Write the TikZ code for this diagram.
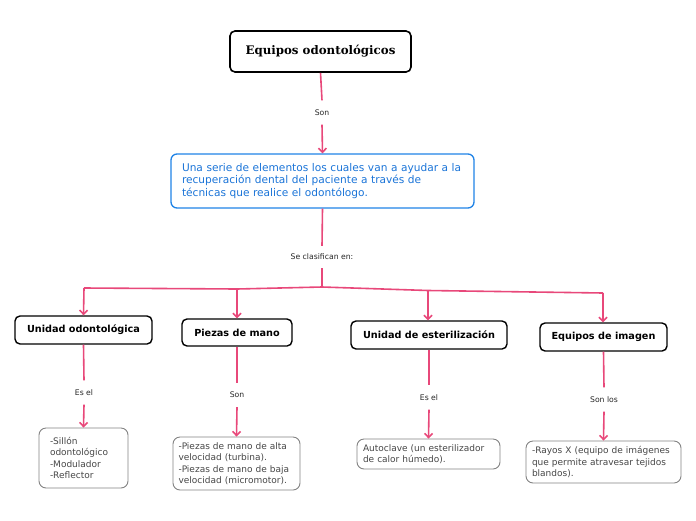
\documentclass[tikz,border=0pt]{standalone}
\usepackage{fontspec}
\setmainfont{DejaVu Sans}
\newfontfamily\titlefont{DejaVu Serif}
\usetikzlibrary{arrows.meta}
\definecolor{pinkline}{RGB}{232,72,122}
\definecolor{bluebox}{RGB}{30,130,230}
\definecolor{bluetext}{RGB}{25,115,215}
\definecolor{leafgray}{RGB}{130,130,130}
\definecolor{leaftext}{RGB}{70,70,70}
\tikzset{
  mainbox/.style={draw=black, line width=1.4pt, rounded corners=5pt, inner sep=0pt, align=center, font=\bfseries\fontsize{9.7}{11}\selectfont},
  leafbox/.style={draw=leafgray, line width=0.9pt, rounded corners=7pt, inner ysep=0pt, align=left, text=leaftext, font=\fontsize{9}{11.5}\selectfont},
  lbl/.style={inner sep=0pt, minimum height=24pt, font=\fontsize{7.7}{9}\selectfont, text=black!85},
  link/.style={draw=pinkline, line width=1.6pt},
  arr/.style={link, -{Straight Barb[length=4pt,width=8pt,line width=1.6pt]}},
}
\begin{document}
\begin{tikzpicture}[x=1pt,y=-1pt]
\useasboundingbox (0,0) rectangle (696,520);
% title
\node[draw=black, line width=1.6pt, rounded corners=5pt, minimum width=181pt, minimum height=41pt, inner sep=0pt, font=\titlefont\bfseries\fontsize{11.8}{13}\selectfont] (t) at (320.5,51.5) {Equipos odontológicos};
\node[lbl] (l1) at (322,112.5) {Son};
\node[draw=bluebox, line width=1.3pt, rounded corners=6pt, minimum width=303pt, minimum height=54pt, inner xsep=11pt, inner ysep=0pt, text=bluetext, font=\fontsize{10.6}{12.5}\selectfont, align=left, text width=281pt] (b) at (322.5,181) {Una serie de elementos los cuales van a ayudar a la\\recuperación dental del paciente a través de\\técnicas que realice el odontólogo.};
\node[lbl, minimum height=22pt] (l2) at (322,257) {Se clasifican en:};
\coordinate (j) at (322,287);
\coordinate (c1) at (84,288);
\coordinate (c2) at (237,289);
\coordinate (c3) at (428,290.5);
\coordinate (c4) at (603,293);
% second row
\node[mainbox, minimum width=137pt, minimum height=28pt] (u1) at (83.5,330) {Unidad odontológica};
\node[mainbox, minimum width=110pt, minimum height=27pt] (u2) at (237,332.5) {Piezas de mano};
\node[mainbox, minimum width=156pt, minimum height=28pt] (u3) at (429,335) {Unidad de esterilización};
\node[mainbox, minimum width=127pt, minimum height=28pt] (u4) at (603.5,337) {Equipos de imagen};
% labels
\node[lbl] (e1) at (84,392.5) {Es el};
\node[lbl] (e2) at (237,395) {Son};
\node[lbl] (e3) at (429,397.5) {Es el};
\node[lbl] (e4) at (604,399.5) {Son los};
% leaves
\node[leafbox, inner xsep=11pt, text width=67pt, minimum height=60pt] (f1) at (83.5,458) {-Sillón\\odontológico\\-Modulador\\-Reflector};
\node[leafbox, inner xsep=5.5pt, text width=116pt, minimum height=53pt] (f2) at (236.5,463.5) {-Piezas de mano de alta\\velocidad (turbina).\\-Piezas de mano de baja\\velocidad (micromotor).};
\node[leafbox, inner xsep=6pt, text width=131pt, minimum height=30pt] (f3) at (428.5,454) {Autoclave (un esterilizador\\de calor húmedo).};
\node[leafbox, inner xsep=6pt, text width=143pt, minimum height=42pt] (f4) at (603.5,462) {-Rayos X (equipo de imágenes\\que permite atravesar tejidos\\blandos).};
% connectors
\draw[link] (t.south) -- (l1.north);
\draw[arr] (l1.south) -- (b.north);
\draw[link] (b.south) -- (l2.north);
\draw[link] (l2.south) -- (j);
\draw[link, line join=round] (j) -- (c2) -- (c1);
\draw[link, line join=round] (j) -- (c3) -- (c4);
\draw[arr] (c1) -- (u1.north);
\draw[arr] (c2) -- (u2.north);
\draw[arr] (c3) -- (u3.north -| c3);
\draw[arr] (c4) -- (u4.north -| c4);
\draw[link] (u1.south) -- (e1.north);
\draw[arr] (e1.south) -- (f1.north);
\draw[link] (u2.south) -- (e2.north);
\draw[arr] (e2.south) -- (f2.north);
\draw[link] (u3.south) -- (e3.north);
\draw[arr] (e3.south) -- (f3.north);
\draw[link] (u4.south) -- (e4.north);
\draw[arr] (e4.south) -- (f4.north);
\end{tikzpicture}
\end{document}
